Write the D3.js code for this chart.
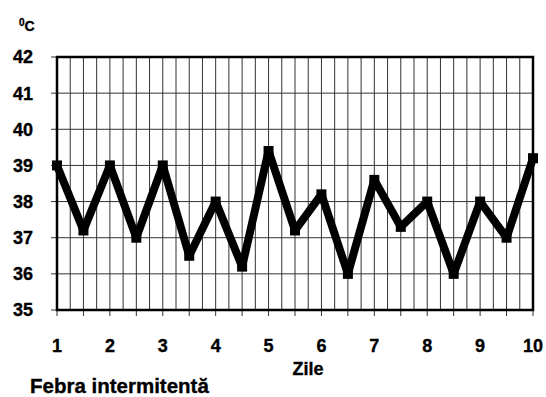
<!DOCTYPE html>
<html><head><meta charset="utf-8">
<script src="https://cdn.jsdelivr.net/npm/d3@7"></script>
<style>body{margin:0;background:#fff}svg{display:block}text{font-family:"Liberation Sans",Arial,sans-serif;font-weight:bold;fill:#000;stroke:#000;stroke-width:0.35px}</style>
</head><body><svg id="c" width="546" height="397"></svg>
<script>
const days = [1,1.5,2,2.5,3,3.5,4,4.5,5,5.5,6,6.5,7,7.5,8,8.5,9,9.5,10];
const temps = [39,37.2,39,37,39,36.5,38,36.2,39.4,37.2,38.2,36,38.6,37.3,38,36,38,37,39.2];
const xTicks = [1,2,3,4,5,6,7,8,9,10];
const yTicks = [35,36,37,38,39,40,41,42];
const title = "Febra intermitentă";
const xTitle = "Zile";

const svg = d3.select("#c");
const L=57,R=533,T=57,B=310;
const x = d3.scaleLinear().domain([1,10]).range([L,R]);
const y = d3.scaleLinear().domain([35,42]).range([B,T]);

// vertical grid every quarter day
const vg = d3.range(1,10.001,0.25);
svg.append("g").selectAll("line").data(vg).join("line")
  .attr("x1",d=>x(d)).attr("x2",d=>x(d)).attr("y1",T).attr("y2",B)
  .attr("stroke","#333").attr("stroke-width",1);
svg.append("g").selectAll("line").data(yTicks).join("line")
  .attr("x1",L-6).attr("x2",R).attr("y1",d=>y(d)).attr("y2",d=>y(d))
  .attr("stroke","#333").attr("stroke-width",1);
// x ticks at half days
svg.append("g").selectAll("line").data(d3.range(1,10.001,0.5)).join("line")
  .attr("x1",d=>x(d)).attr("x2",d=>x(d)).attr("y1",B).attr("y2",B+6)
  .attr("stroke","#333").attr("stroke-width",1);
// border
svg.append("rect").attr("x",L).attr("y",T).attr("width",R-L).attr("height",B-T)
  .attr("fill","none").attr("stroke","#000").attr("stroke-width",2.5);

// y labels
svg.append("g").selectAll("text").data(yTicks).join("text")
  .attr("x",33).attr("y",d=>y(d)).attr("dy","0.36em").attr("text-anchor","end")
  .attr("font-size",18).text(d=>d);
// x labels
svg.append("g").selectAll("text").data(xTicks).join("text")
  .attr("x",d=>x(d)).attr("y",352).attr("text-anchor","middle")
  .attr("font-size",18).text(d=>d);

// line
const line = d3.line().x((d,i)=>x(days[i])).y(d=>y(d));
svg.append("path").datum(temps).attr("d",line).attr("fill","none")
  .attr("stroke","#000").attr("stroke-width",8).attr("stroke-linejoin","bevel");
svg.append("g").selectAll("rect").data(temps).join("rect")
  .attr("x",(d,i)=>x(days[i])-5).attr("y",d=>y(d)-5).attr("width",10).attr("height",10)
  .attr("fill","#000");

// unit label
const u = svg.append("text").attr("x",19).attr("y",31).attr("font-size",14);
u.append("tspan").attr("font-size",10).attr("dy",-5).text("0");
u.append("tspan").attr("dy",5).text("C");

svg.append("text").attr("x",308).attr("y",375).attr("text-anchor","middle").attr("font-size",18).text(xTitle);
svg.append("text").attr("x",30).attr("y",393).attr("font-size",20.5).text(title);
</script></body></html>
